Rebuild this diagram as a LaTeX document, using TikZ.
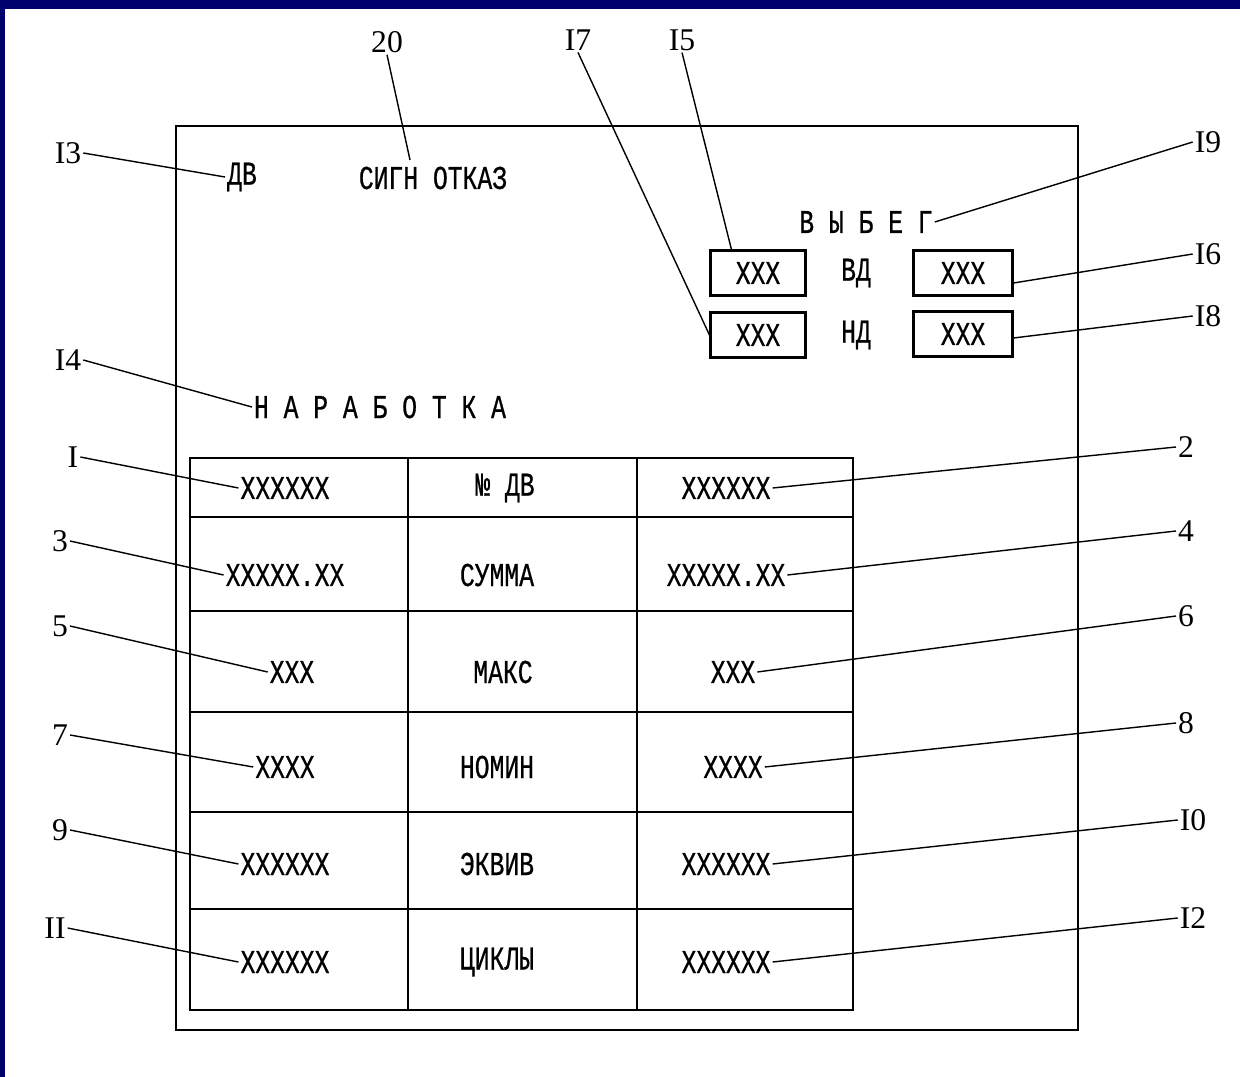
\documentclass[tikz,border=0pt]{standalone}
\usepackage{fontspec}
\setmainfont{Liberation Serif}
\newfontfamily\typefont[FakeStretch=0.74,FakeBold=0.6]{Liberation Mono}
\usetikzlibrary{positioning}
\definecolor{slidenavy}{RGB}{0,0,110}

\begin{document}
\begin{tikzpicture}[
    x=0.02cm,
    y=-0.02cm,
    frame/.style={line width=1.4pt},
    lead/.style={line width=0.8pt},
    num/.style={
        font=\fontsize{18}{18}\selectfont,
        inner sep=1pt
      },
    txt/.style={
        font=\typefont\fontsize{19}{19}\selectfont,
        inner sep=1pt
      },
    field/.style={
        txt,
        draw,
        line width=1.2pt,
        minimum width=1.9cm,
        minimum height=0.9cm
      }
    ]

    \useasboundingbox (0,0) rectangle (1240,1077);
    \fill[slidenavy] (0,0) rectangle (1240,9);
    \fill[slidenavy] (0,0) rectangle (5,1077);

    % panel and table
    \draw[frame] (176,126) rectangle (1078,1030);
    \draw[frame] (190,458) rectangle (853,1010);
    \foreach \yy in {517,611,712,812,909}
      \draw[frame] (190,\yy) -- (853,\yy);
    \foreach \xx in {408,637}
      \draw[frame] (\xx,458) -- (\xx,1010);

    % texts on the panel
    \node[txt] (dv) at (242,177) {ДВ};
    \node[txt] (sig) at (433,178) {СИГН ОТКАЗ};
    \node[txt] (run) at (866,222) {В Ы Б Е Г};
    \node[txt] (nar) at (380,407) {Н А Р А Б О Т К А};

    \node[field] (bvl) at (758,273) {XXX};
    \node[txt,right=0.65cm of bvl] (vd) {ВД};
    \node[field,minimum width=1.98cm] (bvr) at (963,273) {XXX};
    \node[field] (bnl) at (758,335) {XXX};
    \node[txt,right=0.65cm of bnl] (nd) {НД};
    \node[field,minimum width=1.98cm] (bnr) at (963,334) {XXX};

    % table cells
    \node[txt] (c11) at (285,488) {XXXXXX};
    \node[txt] (c12) at (505,488) {№ ДВ};
    \node[txt] (c13) at (726,488) {XXXXXX};
    \node[txt] (c21) at (285,575) {XXXXX.XX};
    \node[txt] (c22) at (497,575) {СУММА};
    \node[txt] (c23) at (726,575) {XXXXX.XX};
    \node[txt] (c31) at (292,672) {XXX};
    \node[txt] (c32) at (503,672) {МАКС};
    \node[txt] (c33) at (733,672) {XXX};
    \node[txt] (c41) at (285,767) {XXXX};
    \node[txt] (c42) at (497,767) {НОМИН};
    \node[txt] (c43) at (733,767) {XXXX};
    \node[txt] (c51) at (285,864) {XXXXXX};
    \node[txt] (c52) at (497,864) {ЭКВИВ};
    \node[txt] (c53) at (726,864) {XXXXXX};
    \node[txt] (c61) at (285,962) {XXXXXX};
    \node[txt] (c62) at (497,962) {ЦИКЛЫ};
    \node[txt] (c63) at (726,962) {XXXXXX};

    % reference numbers
    \node[num] (l20) at (387,42) {20};
    \node[num] (l17) at (578,40) {I7};
    \node[num] (l15) at (682,40) {I5};
    \node[num] (l13) at (68,153) {I3};
    \node[num] (l19) at (1208,142) {I9};
    \node[num] (l16) at (1208,254) {I6};
    \node[num] (l18) at (1208,316) {I8};
    \node[num] (l14) at (68,360) {I4};
    \node[num] (l1) at (73,457) {I};
    \node[num] (l3) at (60,541) {3};
    \node[num] (l5) at (60,626) {5};
    \node[num] (l7) at (60,735) {7};
    \node[num] (l9) at (60,830) {9};
    \node[num] (l11) at (55,928) {II};
    \node[num] (l2) at (1186,447) {2};
    \node[num] (l4) at (1186,531) {4};
    \node[num] (l6) at (1186,616) {6};
    \node[num] (l8) at (1186,723) {8};
    \node[num] (l10) at (1193,820) {I0};
    \node[num] (l12) at (1193,918) {I2};

    \coordinate (sigtop) at (410,160);

    % leaders
    \draw[lead] (l20.south) -- (sigtop);
    \draw[lead] (l17.south) -- (bnl.west);
    \draw[lead] (l15.south) -- ([xshift=0.44cm]bvl.north west);
    \draw[lead] (l13.east) -- (dv.west);
    \draw[lead] (l19.west) -- (run.east);
    \draw[lead] (l16.west) -- ([yshift=-0.2cm]bvr.east);
    \draw[lead] (l18.west) -- ([yshift=-0.08cm]bnr.east);
    \draw[lead] (l14.east) -- (nar.west);
    \draw[lead] (l1.east) -- (c11.west);
    \draw[lead] (l3.east) -- (c21.west);
    \draw[lead] (l5.east) -- (c31.west);
    \draw[lead] (l7.east) -- (c41.west);
    \draw[lead] (l9.east) -- (c51.west);
    \draw[lead] (l11.east) -- (c61.west);
    \draw[lead] (l2.west) -- (c13.east);
    \draw[lead] (l4.west) -- (c23.east);
    \draw[lead] (l6.west) -- (c33.east);
    \draw[lead] (l8.west) -- (c43.east);
    \draw[lead] (l10.west) -- (c53.east);
    \draw[lead] (l12.west) -- (c63.east);

  \end{tikzpicture}
\end{document}
